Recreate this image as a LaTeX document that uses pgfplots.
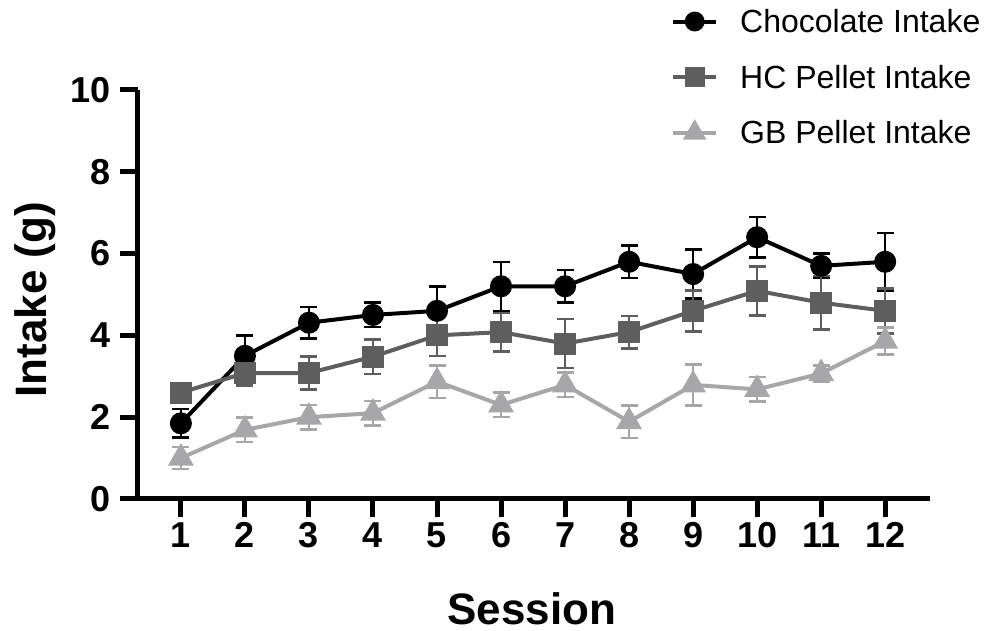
\documentclass[border=0pt]{standalone}
\usepackage{fontspec}
\setmainfont{Liberation Sans}
\usepackage{pgfplots}
\pgfplotsset{compat=1.18}
\definecolor{hcgray}{HTML}{5E5E5E}
\definecolor{gbgray}{HTML}{A7A7AA}
\begin{document}
\begin{tikzpicture}
\useasboundingbox (-138pt,-132pt) rectangle (852pt,499pt);
\begin{axis}[
  at={(0pt,0pt)}, anchor=south west,
  scale only axis,
  width=792pt, height=409pt,
  xmin=0.33, xmax=12.7,
  ymin=0, ymax=10,
  axis x line=bottom, axis y line=left,
  axis line style={-, line width=5pt, black},
  xtick={1,...,12}, ytick={0,2,4,6,8,10},
  tick align=outside,
  major tick length=18pt,
  tick style={line width=5pt, black},
  /pgf/number format/assume math mode=true,
  ticklabel style={font=\fontsize{36}{40}\selectfont\bfseries},
  yticklabel style={xshift=-6pt},
  xticklabel style={yshift=-2pt},
  xlabel={Session},
  ylabel={Intake (g)},
  label style={font=\fontsize{44}{46}\selectfont\bfseries},
  xlabel style={at={(axis description cs:0.4975,-0.308)}, anchor=base},
  ylabel style={at={(axis description cs:-0.1149,0.487)}, anchor=base, rotate=0},
  legend style={draw=none, fill=none, at={(axis description cs:0.673,1.203)}, anchor=north west,
    font=\fontsize{32}{36}\selectfont, inner xsep=0pt, inner ysep=0pt,
    row sep=27pt, legend cell align=left},
  legend image code/.code={
    \draw[#1, mark repeat=2, mark phase=2, mark options={solid, scale=0.88}] plot coordinates {(0pt,0pt) (21.5pt,0pt) (43pt,0pt)};
  },
  error bars/y dir=both, error bars/y explicit,
]
\addplot[black, line width=4pt, mark=*, mark size=9pt, mark options={solid},
  error bars/error mark=-,
  error bars/error bar style={line width=2.5pt, black},
  error bars/error mark options={rotate=90, line width=2.5pt, mark size=8.5pt, black}]
  coordinates {
  (1,1.85) +- (0,0.35)
  (2,3.5) +- (0,0.5)
  (3,4.31) +- (0,0.38)
  (4,4.5) +- (0,0.3)
  (5,4.6) +- (0,0.6)
  (6,5.2) +- (0,0.6)
  (7,5.2) +- (0,0.4)
  (8,5.8) +- (0,0.4)
  (9,5.5) +- (0,0.6)
  (10,6.4) +- (0,0.5)
  (11,5.7) +- (0,0.3)
  (12,5.8) +- (0,0.7)
  };
\addlegendentry{\hspace*{20pt}Chocolate Intake}
\addplot[hcgray, line width=4pt, mark=square*, mark size=9pt, mark options={solid},
  error bars/error mark=-,
  error bars/error bar style={line width=2.5pt, hcgray},
  error bars/error mark options={rotate=90, line width=2.5pt, mark size=8.5pt, hcgray}]
  coordinates {
  (1,2.6) +- (0,0.1)
  (2,3.08) +- (0,0.3)
  (3,3.08) +- (0,0.4)
  (4,3.48) +- (0,0.42)
  (5,4.0) +- (0,0.5)
  (6,4.08) +- (0,0.47)
  (7,3.8) +- (0,0.6)
  (8,4.08) +- (0,0.4)
  (9,4.6) +- (0,0.5)
  (10,5.09) +- (0,0.6)
  (11,4.8) +- (0,0.65)
  (12,4.6) +- (0,0.55)
  };
\addlegendentry{\hspace*{20pt}HC Pellet Intake}
\addplot[gbgray, line width=4pt, mark=triangle*, mark size=11pt, mark options={solid},
  error bars/error mark=-,
  error bars/error bar style={line width=2.5pt, gbgray},
  error bars/error mark options={rotate=90, line width=2.5pt, mark size=8.5pt, gbgray}]
  coordinates {
  (1,1.0) +- (0,0.27)
  (2,1.69) +- (0,0.3)
  (3,2.0) +- (0,0.3)
  (4,2.1) +- (0,0.3)
  (5,2.87) +- (0,0.4)
  (6,2.3) +- (0,0.3)
  (7,2.79) +- (0,0.3)
  (8,1.89) +- (0,0.4)
  (9,2.79) +- (0,0.5)
  (10,2.68) +- (0,0.3)
  (11,3.07) +- (0,0.2)
  (12,3.86) +- (0,0.33)
  };
\addlegendentry{\hspace*{20pt}GB Pellet Intake}
\end{axis}
\end{tikzpicture}
\end{document}
